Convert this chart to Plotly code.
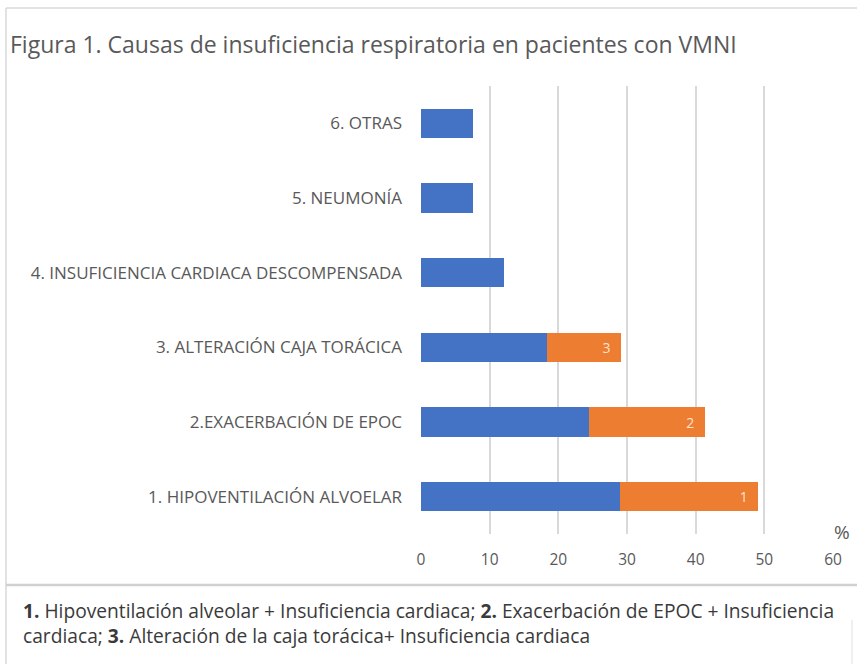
import plotly.graph_objects as go

categories = [
    "1. HIPOVENTILACIÓN ALVOELAR",
    "2.EXACERBACIÓN DE EPOC",
    "3. ALTERACIÓN CAJA TORÁCICA",
    "4. INSUFICIENCIA CARDIACA DESCOMPENSADA",
    "5. NEUMONÍA",
    "6. OTRAS",
]
blue_values = [29.0, 24.5, 18.4, 12.1, 7.6, 7.6]
orange_values = [20.1, 16.8, 10.7, None, None, None]
orange_labels = ["1", "2", "3", "", "", ""]
x_ticks = [0, 10, 20, 30, 40, 50, 60]

W, H = 857, 664
ML, MR, MT, MB = 421, 24, 86, 130
PW, PH = W - ML - MR, H - MT - MB

def px(x):
    return (x - ML) / PW

def py(y):
    return (H - MB - y) / PH

GRAY = "#595959"
FONT = "Open Sans"

fig = go.Figure()
fig.add_trace(go.Bar(
    y=categories, x=blue_values, orientation="h",
    marker=dict(color="#4472C4", line=dict(width=0)),
    hoverinfo="x+y", name="Causa",
))
fig.add_trace(go.Bar(
    y=categories, x=orange_values, orientation="h",
    marker=dict(color="#ED7D31", line=dict(width=0)),
    text=[(t + "\u00a0\u00a0") if t else "" for t in orange_labels],
    textposition="inside", insidetextanchor="end",
    textfont=dict(family=FONT, size=14, color="rgba(255,240,230,0.9)"),
    name="+ Insuficiencia cardiaca",
))

fig.update_layout(
    width=W, height=H,
    margin=dict(l=ML, r=MR, t=MT, b=MB),
    barmode="stack", bargap=0.61,
    showlegend=False,
    paper_bgcolor="white", plot_bgcolor="white",
    font=dict(family=FONT, color=GRAY),
    title=dict(
        text="Figura 1. Causas de insuficiencia respiratoria en pacientes con VMNI",
        x=10 / W, xanchor="left", xref="container",
        y=1 - 45 / H, yanchor="middle", yref="container",
        font=dict(family=FONT, size=23, color=GRAY),
    ),
    xaxis=dict(
        range=[0, 60], tickvals=x_ticks,
        showgrid=True, gridcolor="#D9D9D9", gridwidth=1.5,
        zeroline=False, showline=False,
        tickfont=dict(family=FONT, size=15.5, color=GRAY),
        ticklabelstandoff=14, fixedrange=True,
    ),
    yaxis=dict(
        categoryorder="array", categoryarray=categories,
        showgrid=False, zeroline=False, showline=False,
        tickfont=dict(family=FONT, size=17, color=GRAY),
        ticklabelstandoff=18, fixedrange=True,
    ),
    annotations=[
        dict(text="%", xref="paper", yref="paper", x=px(842), y=py(532),
             xanchor="center", yanchor="middle", showarrow=False,
             font=dict(family=FONT, size=19, color=GRAY)),
        dict(text="<b>1.</b> Hipoventilación alveolar + Insuficiencia cardiaca; <b>2.</b> Exacerbación de EPOC + Insuficiencia<br>"
                  "cardiaca; <b>3.</b> Alteración de la caja torácica+ Insuficiencia cardiaca",
             xref="paper", yref="paper", x=px(21), y=py(595),
             xanchor="left", yanchor="top", align="left", showarrow=False,
             font=dict(family=FONT, size=19.2, color="#3A3A3A")),
    ],
    shapes=[
        dict(type="line", xref="paper", yref="paper", x0=px(6), x1=px(857), y0=py(8), y1=py(8),
             line=dict(color="#D8D8D8", width=1.5)),
        dict(type="line", xref="paper", yref="paper", x0=px(6), x1=px(6), y0=py(8), y1=py(664),
             line=dict(color="#D8D8D8", width=1.5)),
        dict(type="line", xref="paper", yref="paper", x0=px(6), x1=px(857), y0=py(585), y1=py(585),
             line=dict(color="#D0D0D0", width=2.5)),
        dict(type="line", xref="paper", yref="paper", x0=px(852), x1=px(852), y0=py(620), y1=py(664),
             line=dict(color="#E0E0E0", width=1)),
    ],
)

fig.write_html("out.html", config={"displayModeBar": False},
               post_script="document.body.style.margin='0';")
